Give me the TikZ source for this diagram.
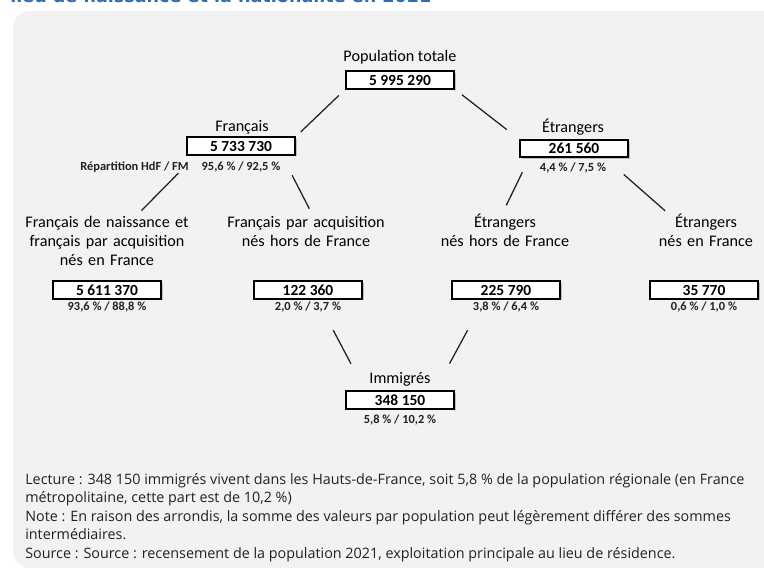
\documentclass[tikz,border=0pt]{standalone}
\usepackage{fontspec}
\setmainfont{Carlito}
\newfontfamily\notefont{Open Sans}
\newfontfamily\titlefont{DejaVu Sans}
\usepackage{xcolor}
\usetikzlibrary{shadows,positioning}
\definecolor{panelgrey}{HTML}{F2F2F2}
\definecolor{titleblue}{HTML}{2E6DB4}
\definecolor{inkgrey}{HTML}{222222}

\begin{document}
\begin{tikzpicture}[x=0.025cm, y=-0.025cm,
    lab/.style={inner sep=0pt, text=black, font=\fontsize{11.5}{13.5}\selectfont},
    grp/.style={lab, anchor=north, text width=4.2cm, align=center,
        execute at begin node={\vphantom{É}}},
    valbox/.style={draw=black, line width=1.3pt, fill=white, minimum width=2.7cm,
        minimum height=0.43cm, inner sep=0pt, outer sep=0pt,
        font=\fontsize{11}{12}\selectfont\bfseries,
        drop shadow={shadow xshift=1.2pt, shadow yshift=-1.2pt, opacity=0.45}},
    pct/.style={inner sep=0pt, text=inkgrey, font=\fontsize{8.8}{10}\selectfont\bfseries},
    link/.style={draw=inkgrey, line width=0.9pt}]
    \useasboundingbox (0,0) rectangle (764,576);
    \clip (0,0) rectangle (764,576);

    % Panel
    \fill[panelgrey, rounded corners=12] (13,11) rectangle (800,568);
    \node[anchor=base west, inner sep=0pt, text=titleblue,
        font=\titlefont\fontsize{12.5}{14}\selectfont\bfseries] (title) at (10,3)
        {lieu de naissance et la nationalité en 2021};

    % Top
    \node[lab] (pop) at (400,57) {Population totale};
    \node[valbox] (popval) at (400,80) {5 995 290};

    % Francais
    \node[lab] (fr) at (242,127) {Français};
    \node[valbox] (frval) at (241,146) {5 733 730};
    \node[pct] (frpct) at (241,167) {95,6 \% / 92,5 \%};
    \node[pct, anchor=east] (frrep) at (189,167) {Répartition HdF / FM};

    % Etrangers
    \node[lab] (etr) at (573,127) {Étrangers};
    \node[valbox] (etrval) at (574,148.5) {261 560};
    \node[pct] (etrpct) at (573,168) {4,4 \% / 7,5 \%};

    % Children
    \node[grp] (frnais) at (107,214) {Français de naissance et\\français par acquisition\\nés en France};
    \node[valbox] (frnaisval) at (107,290) {5 611 370};
    \node[pct] (frnaispct) at (107,307) {93,6 \% / 88,8 \%};

    \node[grp] (fracq) at (306,214) {Français par acquisition\\nés hors de France};
    \node[valbox] (fracqval) at (308,290) {122 360};
    \node[pct] (fracqpct) at (308,307) {2,0 \% / 3,7 \%};

    \node[grp] (etrhors) at (505,214) {Étrangers\\nés hors de France};
    \node[valbox] (etrhorsval) at (506,290) {225 790};
    \node[pct] (etrhorspct) at (506,307) {3,8 \% / 6,4 \%};

    \node[grp] (etren) at (706,214) {Étrangers\\nés en France};
    \node[valbox] (etrenval) at (704,290) {35 770};
    \node[pct] (etrenpct) at (704,307) {0,6 \% / 1,0 \%};

    % Immigres
    \node[lab] (immi) at (400,379) {Immigrés};
    \node[valbox] (immival) at (400,400) {348 150};
    \node[pct] (immipct) at (400,420) {5,8 \% / 10,2 \%};

    % Links
    \draw[link, shorten <=0.25cm, shorten >=0.2cm] (popval.south west) -- (frval.north east);
    \draw[link, shorten <=0.25cm, shorten >=0.42cm] (popval.south east) -- (etrval.north west);
    \draw[link, shorten <=0.65cm, shorten >=0.12cm] (frval.191) -- (frnais.40);
    \draw[link, shorten <=0.58cm, shorten >=0.15cm] (frval.-12.5) -- (fracq.70);
    \draw[link, shorten <=0.42cm, shorten >=0.24cm] (etrval.191) -- (etrhors.100);
    \draw[link, shorten <=0.66cm, shorten >=0.12cm] (etrval.-16.6) -- (etren.156);
    \draw[link, shorten <=0.89cm, shorten >=0.78cm] (fracqval.-45) -- (immival.166);
    \draw[link, shorten <=0.9cm, shorten >=0.79cm] (etrhorsval.202) -- (immival.14);

    % Notes
    \node[anchor=north west, inner sep=0pt, align=left, text=inkgrey,
        font=\notefont\fontsize{10.2}{13.2}\selectfont] (notes) at (25,473)
        {Lecture : 348 150 immigrés vivent dans les Hauts-de-France, soit 5,8 \% de la population régionale (en France\\
        métropolitaine, cette part est de 10,2 \%)\\
        Note : En raison des arrondis, la somme des valeurs par population peut légèrement différer des sommes\\
        intermédiaires.\\
        Source : Source : recensement de la population 2021, exploitation principale au lieu de résidence.};
\end{tikzpicture}
\end{document}
